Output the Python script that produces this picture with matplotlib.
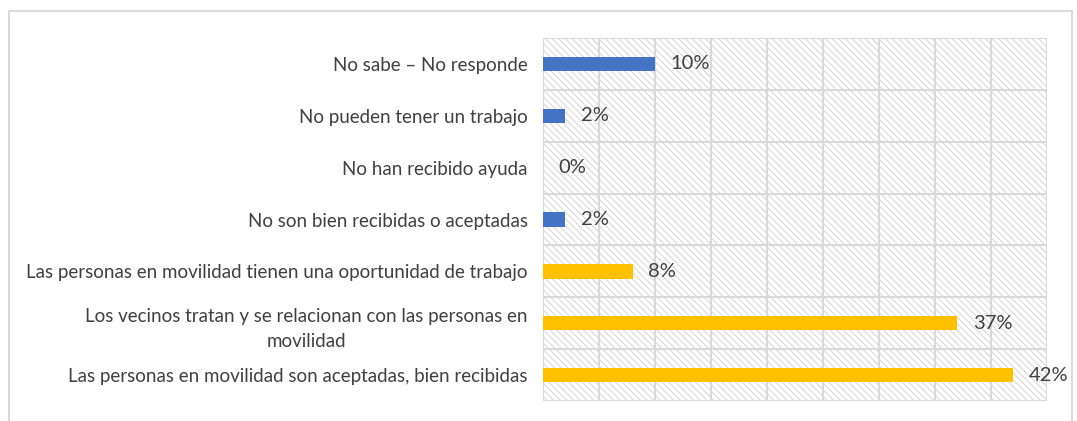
import matplotlib.pyplot as plt
from matplotlib.patches import Rectangle

categories = [
    "No sabe – No responde",
    "No pueden tener un trabajo",
    "No han recibido ayuda",
    "No son bien recibidas o aceptadas",
    "Las personas en movilidad tienen una oportunidad de trabajo",
    "Los vecinos tratan y se relacionan con las personas en\nmovilidad",
    "Las personas en movilidad son aceptadas, bien recibidas",
]
values = [10, 2, 0, 2, 8, 37, 42]
colors = ["#4472C4"] * 4 + ["#FFC000"] * 3

plt.rcParams["font.family"] = ["Lato", "DejaVu Sans"]
plt.rcParams["hatch.linewidth"] = 0.6
plt.rcParams["hatch.color"] = "#d0d0d0"

fig = plt.figure(figsize=(10.77, 4.21), dpi=100)
ax = fig.add_axes([543 / 1077, 1 - 401 / 421, (1047 - 543) / 1077, (401 - 38) / 421])

# chart frame
fig.patches.append(Rectangle((9 / 1077, -0.05), (1072 - 9) / 1077, 1 - 11 / 421 + 0.05,
                             transform=fig.transFigure, fill=False,
                             edgecolor="#d9d9d9", linewidth=1.5))

# hatched plot background
ax.add_patch(Rectangle((0, 0), 1, 1, transform=ax.transAxes, facecolor="white",
                       hatch="\\" * 5, linewidth=0, zorder=0))

pos = list(range(len(categories)))[::-1]
ax.barh(pos, values, height=0.28, color=colors, zorder=3)

for p, v in zip(pos, values):
    ax.annotate(f"{v}%", (v, p), xytext=(11, 0), textcoords="offset points",
                va="center", ha="left", fontsize=14.5, color="#404040", zorder=4)

ax.set_xlim(0, 45)
ax.set_ylim(-0.5, len(categories) - 0.5)
ax.set_xticks(range(0, 46, 5))
ax.set_yticks([p + 0.5 for p in range(len(categories))], minor=False)
ax.grid(True, color="#d9d9d9", linewidth=1.5, zorder=1)
ax.set_yticks(pos, labels=categories, minor=True)
ax.tick_params(axis="y", which="minor", length=0, pad=11, labelsize=13.5, labelcolor="#404040")
ax.tick_params(axis="y", which="major", length=0, labelleft=False)
ax.tick_params(axis="x", length=0, labelbottom=False)
for lbl in ax.get_yticklabels(minor=True):
    lbl.set_multialignment("center")
    lbl.set_linespacing(1.6)
for s in ax.spines.values():
    s.set_visible(False)
ax.axhline(-0.5, color="#d9d9d9", linewidth=1.5, zorder=1)

fig.savefig("out.png", dpi=100)
